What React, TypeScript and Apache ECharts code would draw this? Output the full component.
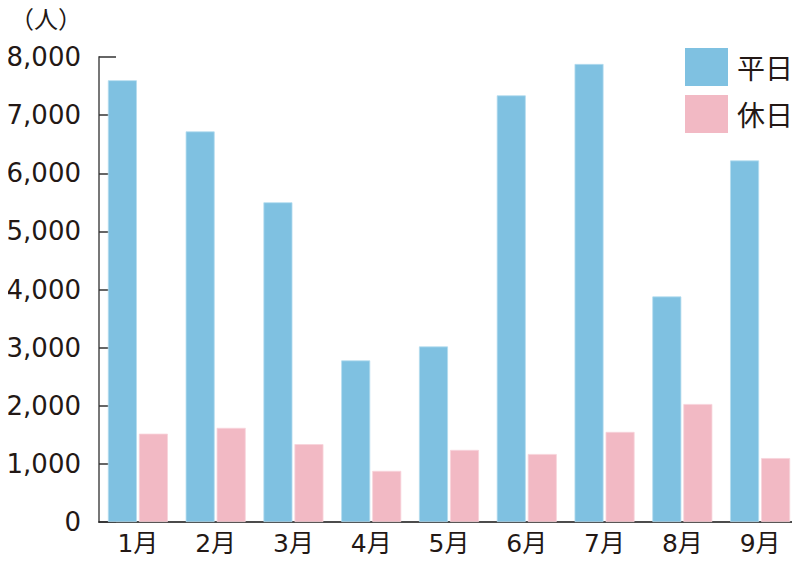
import React, { useEffect, useRef } from "react";
import * as echarts from "echarts";

const categories = ["1月", "2月", "3月", "4月", "5月", "6月", "7月", "8月", "9月"];
const weekday = [7600, 6720, 5500, 2780, 3020, 7340, 7880, 3880, 6220];
const holiday = [1520, 1620, 1340, 880, 1240, 1170, 1550, 2030, 1100];
const seriesNames = ["平日", "休日"];

const FONT = "'Noto Sans CJK JP', 'Noto Sans', sans-serif";
const NUMFONT = "'DejaVu Sans', 'Noto Sans CJK JP', sans-serif";
const TEXT = "#231815";

export default function App() {
  const ref = useRef<HTMLDivElement>(null);
  useEffect(() => {
    if (!ref.current) return;
    const chart = echarts.init(ref.current, undefined, { renderer: "svg" });
    chart.setOption({
      animation: false,
      textStyle: { fontFamily: FONT, color: TEXT },
      grid: { left: 99, right: 1, top: 57, bottom: 45, containLabel: false },
      legend: {
        orient: "vertical",
        left: 685,
        top: 48,
        padding: 0,
        itemWidth: 43,
        itemHeight: 38,
        itemGap: 9,
        icon: "rect",
        itemStyle: { borderWidth: 0 },
        textStyle: { fontSize: 28, color: TEXT, fontFamily: FONT, padding: [0, 0, 0, 4] },
        data: seriesNames,
      },
      graphic: [
        {
          type: "text",
          left: 10,
          top: 5,
          style: { text: "（人）", fontSize: 24, fill: TEXT, fontFamily: FONT },
        },
      ],
      xAxis: {
        type: "category",
        data: categories,
        axisLine: { lineStyle: { color: "#111", width: 1.5 } },
        axisTick: { inside: true, length: 12, lineStyle: { color: "#666", width: 1.5 } },
        axisLabel: { fontSize: 25, color: TEXT, margin: 9, fontFamily: NUMFONT },
      },
      yAxis: {
        type: "value",
        min: 0,
        max: 8000,
        interval: 1000,
        axisLine: { show: true, lineStyle: { color: "#777", width: 2 } },
        axisTick: { show: true, inside: true, length: 17, lineStyle: { color: "#333", width: 1.5 } },
        splitLine: { show: false },
        axisLabel: {
          fontSize: 26,
          color: TEXT,
          margin: 18,
          fontFamily: NUMFONT,
          formatter: (v: number) => v.toLocaleString("en-US"),
        },
      },
      series: [
        {
          name: seriesNames[0],
          type: "bar",
          data: weekday,
          barWidth: 29,
          barGap: "7%",
          itemStyle: { color: "#7fc1e1", borderColor: "#b4dcef", borderWidth: 0.8 },
        },
        {
          name: seriesNames[1],
          type: "bar",
          data: holiday,
          barWidth: 29,
          itemStyle: { color: "#f2b9c4", borderColor: "#f7d3da", borderWidth: 0.8 },
        },
      ],
    });
    return () => chart.dispose();
  }, []);
  return <div ref={ref} style={{ width: 800, height: 567, margin: -8 }} />;
}
